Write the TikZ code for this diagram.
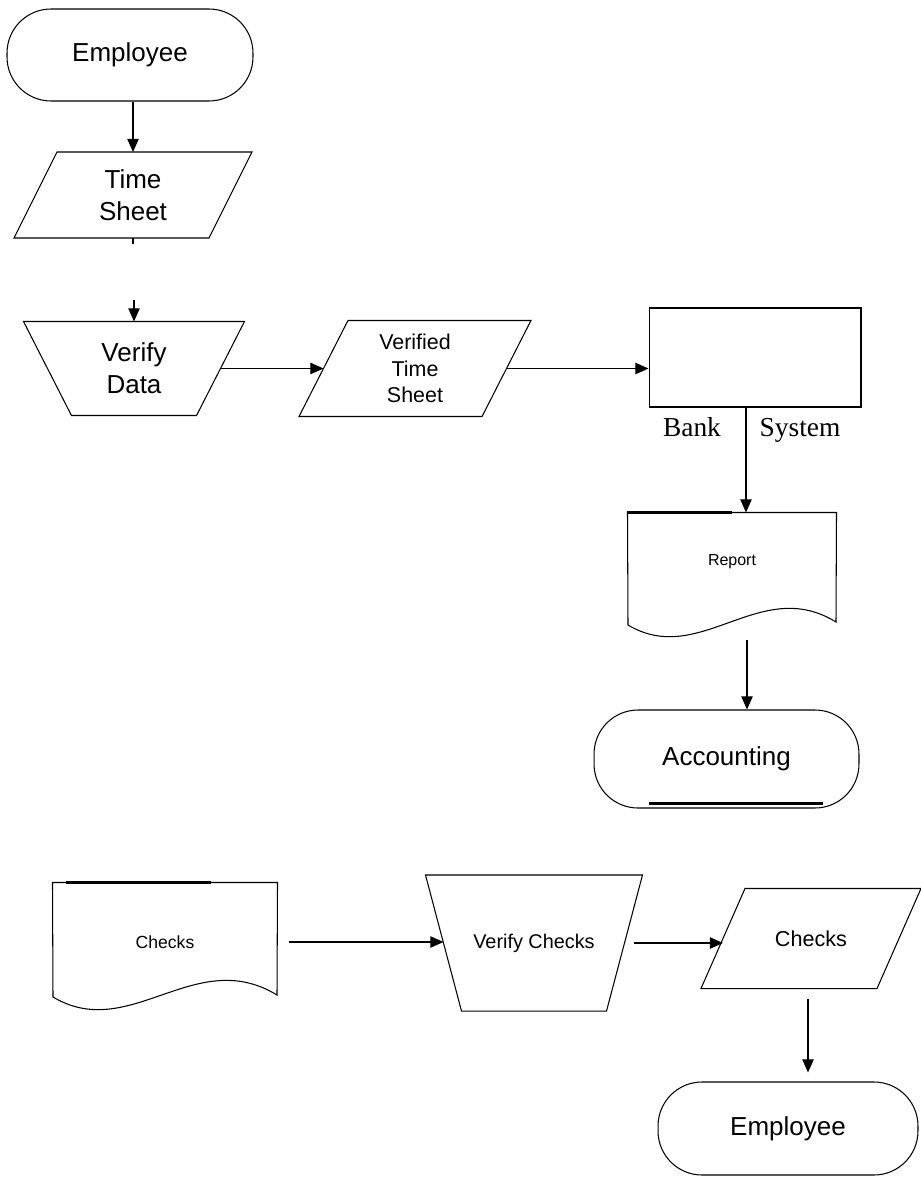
\documentclass[tikz,border=0pt]{standalone}
\usepackage{fontspec}
\setmainfont{Liberation Sans}
\newfontfamily\timesfont{Liberation Serif}
\usetikzlibrary{arrows.meta}

\begin{document}
\begin{tikzpicture}[x=0.02cm,y=-0.02cm,line width=0.6pt,
    terminal/.style={draw,rounded corners=0.88cm,inner sep=0pt,font=\fontsize{14.8}{18}\selectfont},
    box/.style={inner sep=0pt,align=center},
    arr/.style={-{Triangle[length=7.5pt,width=6.5pt]},line width=0.7pt},
    bar/.style={line width=1.7pt}]
    \useasboundingbox (0,0) rectangle (920,1177);

    % upper flow
    \node[terminal,minimum width=4.92cm,minimum height=1.84cm] (emp1) at (130,55) {Employee};
    \node[box,minimum width=3.88cm,minimum height=1.7cm,font=\fontsize{14.8}{18.2}\selectfont] (ts) at (133,195) {Time\\Sheet};
    \draw ([xshift=0.43cm]ts.north west) -- ([xshift=0.43cm]ts.north east)
       -- ([xshift=-0.43cm]ts.south east) -- ([xshift=-0.43cm]ts.south west) -- cycle;

    \node[box,minimum width=3.44cm,minimum height=1.86cm,font=\fontsize{14.8}{18.2}\selectfont] (vd) at (134,368.5) {Verify\\Data};
    \draw ([xshift=-0.48cm]vd.north west) -- ([xshift=0.48cm]vd.north east)
       -- ([xshift=-0.48cm]vd.south east) -- ([xshift=0.48cm]vd.south west) -- cycle;

    \node[box,minimum width=3.64cm,minimum height=1.9cm,font=\fontsize{12.2}{15}\selectfont] (vts) at (415,368.5) {Verified\\Time\\Sheet};
    \draw ([xshift=0.49cm]vts.north west) -- ([xshift=0.49cm]vts.north east)
       -- ([xshift=-0.49cm]vts.south east) -- ([xshift=-0.49cm]vts.south west) -- cycle;

    \node[draw,minimum width=4.24cm,minimum height=1.98cm] (bank) at (755,357.5) {};
    \node[anchor=base,font=\timesfont\fontsize{15.6}{18}\selectfont] (banklbl) at (692,436) {Bank};
    \node[anchor=base,font=\timesfont\fontsize{15.6}{18}\selectfont] (syslbl) at (800,436) {System};

    \node[box,minimum width=4.16cm,minimum height=1.96cm,font=\fontsize{9.1}{11}\selectfont] (rep) at (732,562) {Report};
    \draw (rep.north west) -- (rep.north east) -- (836,622)
       .. controls (760,575) and (700,668) .. (628,625) -- cycle;
    \draw[bar] (rep.north west) -- ++(104,0);

    \node[terminal,minimum width=5.3cm,minimum height=1.96cm] (acc) at (726.5,759) {Accounting};
    \draw[bar] ([shift={(55,-5)}]acc.south west) -- ([shift={(-37,-5)}]acc.south east);

    \coordinate (vdin) at (134,300);
    \coordinate (repout) at (747,640);

    \draw[arr] (emp1.south -| ts.north) -- (ts.north);
    \draw (ts.south) -- ++(0,6);
    \draw[arr] (vdin) -- (vd.north);
    \draw[arr] (vd.east) -- (vts.west);
    \draw[arr] (vts.east) -- (vts.east -| bank.west);
    \draw[arr] ([xshift=-0.18cm]bank.south) -- ([xshift=-0.18cm]bank.south |- rep.north);
    \draw[arr] (repout) -- (repout |- acc.north);

    % lower flow
    \node[box,minimum width=4.48cm,minimum height=2.36cm,font=\fontsize{10}{12}\selectfont] (chk1) at (165,942) {Checks};
    \draw (chk1.north west) -- (chk1.north east) -- (277,995)
       .. controls (195,945) and (130,1043) .. (53,997) -- cycle;
    \draw[bar] ([xshift=0.28cm]chk1.north west) -- ++(145,0);

    \node[box,minimum width=3.6cm,minimum height=2.7cm,font=\fontsize{11.3}{13}\selectfont] (vc) at (534,943) {Verify Checks};
    \draw ([xshift=-0.36cm]vc.north west) -- ([xshift=0.36cm]vc.north east)
       -- ([xshift=-0.36cm]vc.south east) -- ([xshift=0.36cm]vc.south west) -- cycle;

    \node[box,minimum width=3.5cm,minimum height=1.98cm,font=\fontsize{12.3}{15}\selectfont] (chk2) at (811,938.5) {Checks};
    \draw ([xshift=0.44cm]chk2.north west) -- ([xshift=0.44cm]chk2.north east)
       -- ([xshift=-0.44cm]chk2.south east) -- ([xshift=-0.44cm]chk2.south west) -- cycle;

    \node[terminal,minimum width=5.2cm,minimum height=1.86cm] (emp2) at (788,1128.5) {Employee};

    \draw[arr,shorten <=0.22cm] (chk1.east) -- (chk1.east -| vc.west);
    \draw[arr,shorten <=0.18cm] (vc.east) -- (vc.east -| chk2.west);
    \draw[arr,shorten <=0.2cm,shorten >=0.18cm] ([xshift=-0.06cm]chk2.south) -- ([xshift=-0.06cm]chk2.south |- emp2.north);

\end{tikzpicture}
\end{document}
